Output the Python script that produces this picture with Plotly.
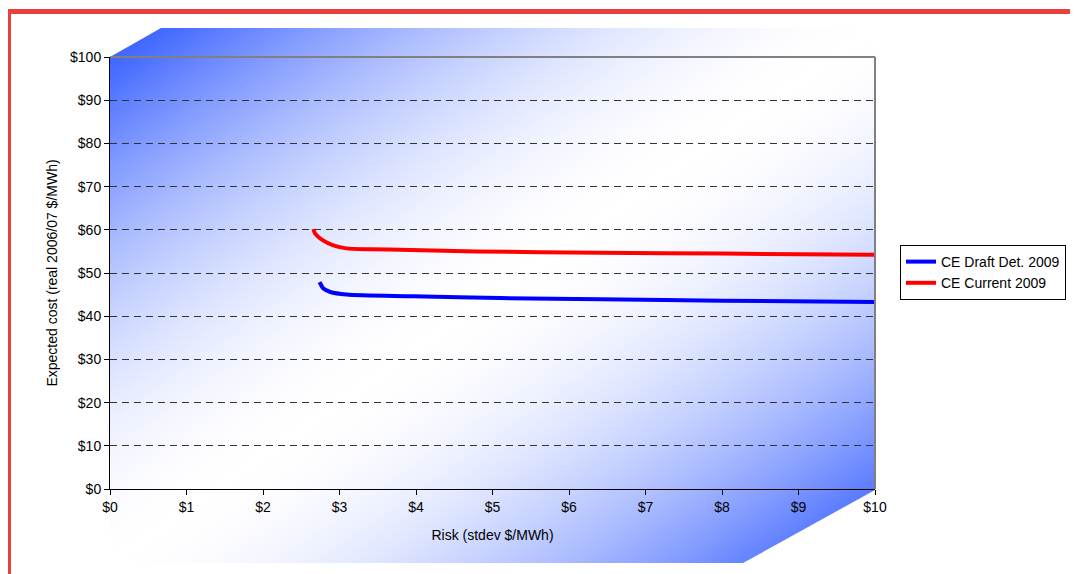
import base64
import plotly.graph_objects as go

# ---- data ----
red_name = "CE Current 2009"
red_x = [2.66, 2.68, 2.79, 2.92, 3.09, 3.40, 3.79, 4.79, 6.41, 8.0, 10.0]
red_y = [60.2, 59.2, 57.5, 56.4, 55.7, 55.5, 55.4, 55.0, 54.7, 54.5, 54.2]

blue_name = "CE Draft Det. 2009"
blue_x = [2.74, 2.76, 2.79, 2.88, 3.09, 3.96, 5.10, 6.41, 8.0, 10.0]
blue_y = [47.9, 47.2, 46.4, 45.6, 45.0, 44.6, 44.2, 43.9, 43.6, 43.3]

x_tickvals = list(range(0, 11))
x_ticktext = ["$0", "$1", "$2", "$3", "$4", "$5", "$6", "$7", "$8", "$9", "$10"]
y_tickvals = list(range(0, 101, 10))
y_ticktext = ["$0", "$10", "$20", "$30", "$40", "$50", "$60", "$70", "$80", "$90", "$100"]

# ---- layout geometry (figure coords; page has 8px body margin) ----
W, H = 1078, 574
L, R, T, B = 102, 211, 49, 93
pw, ph = W - L - R, H - T - B

FONT = "Liberation Sans, Arial, sans-serif"

# gradient stops (style): blue at both diagonal corners, white along the anti-diagonal
BLUE = (61, 100, 255)
stops = []
for i in range(0, 41):
    t = i / 40
    d = abs(t - 0.5)
    f = min(1.0, (d / 0.47) ** 1.8)
    c = tuple(round(255 - f * (255 - b)) for b in BLUE)
    stops.append(f'<stop offset="{t:.3f}" stop-color="rgb({c[0]},{c[1]},{c[2]})"/>')

svg = f'''<svg xmlns="http://www.w3.org/2000/svg" width="{W}" height="{H}" viewBox="0 0 {W} {H}" preserveAspectRatio="none">
<defs><linearGradient id="g" x1="0" y1="0" x2="1" y2="1">
{''.join(stops)}
</linearGradient></defs>
<polygon points="102,49 153,20 867,20 867,482 735,555 102,555" fill="url(#g)"/>
<rect x="0" y="1" width="3" height="{H-1}" fill="#E8403A"/>
<rect x="0" y="1" width="{W}" height="5" fill="#E8403A"/>
</svg>'''
src = "data:image/svg+xml;base64," + base64.b64encode(svg.encode()).decode()

fig = go.Figure()
fig.add_trace(go.Scatter(x=blue_x, y=blue_y, name=blue_name, mode="lines",
                         line=dict(color="#0000FF", width=4, shape="spline", smoothing=0.8)))
fig.add_trace(go.Scatter(x=red_x, y=red_y, name=red_name, mode="lines",
                         line=dict(color="#FF0000", width=4, shape="spline", smoothing=0.8)))

fig.update_layout(
    width=W, height=H,
    margin=dict(l=L, r=R, t=T, b=B, autoexpand=False),
    paper_bgcolor="white",
    plot_bgcolor="rgba(0,0,0,0)",
    font=dict(family=FONT, size=14, color="black"),
    showlegend=True,
    legend=dict(x=(892 - L) / pw, y=(H - B - 264.5) / ph, xanchor="left", yanchor="middle",
                bgcolor="white", bordercolor="black", borderwidth=1,
                font=dict(family=FONT, size=14, color="black"),
                tracegroupgap=0),
    images=[dict(source=src, xref="paper", yref="paper",
                 x=-L / pw, y=(H - B) / ph, sizex=W / pw, sizey=H / ph,
                 xanchor="left", yanchor="top", sizing="stretch", layer="below")],
    shapes=[
        dict(type="line", xref="paper", yref="paper", x0=0, x1=1, y0=1, y1=1,
             line=dict(color="#808080", width=2)),
        dict(type="line", xref="paper", yref="paper", x0=1, x1=1, y0=0, y1=1,
             line=dict(color="#808080", width=2)),
    ],
)
fig.update_xaxes(range=[0, 10], tickvals=x_tickvals, ticktext=x_ticktext,
                 showgrid=False, zeroline=False, showline=True, linecolor="black", linewidth=1,
                 ticks="outside", ticklen=5, tickcolor="black",
                 title=dict(text="Risk (stdev $/MWh)", standoff=16, font=dict(size=14)))
fig.update_yaxes(range=[0, 100], tickvals=y_tickvals, ticktext=y_ticktext,
                 showgrid=True, gridcolor="#333333", gridwidth=1, griddash="7px,5px",
                 zeroline=False, showline=True, linecolor="black", linewidth=1,
                 ticks="outside", ticklen=5, tickcolor="black",
                 title=dict(text="Expected cost (real 2006/07 $/MWh)", standoff=9, font=dict(size=14)))

fig.write_html("out.html")
